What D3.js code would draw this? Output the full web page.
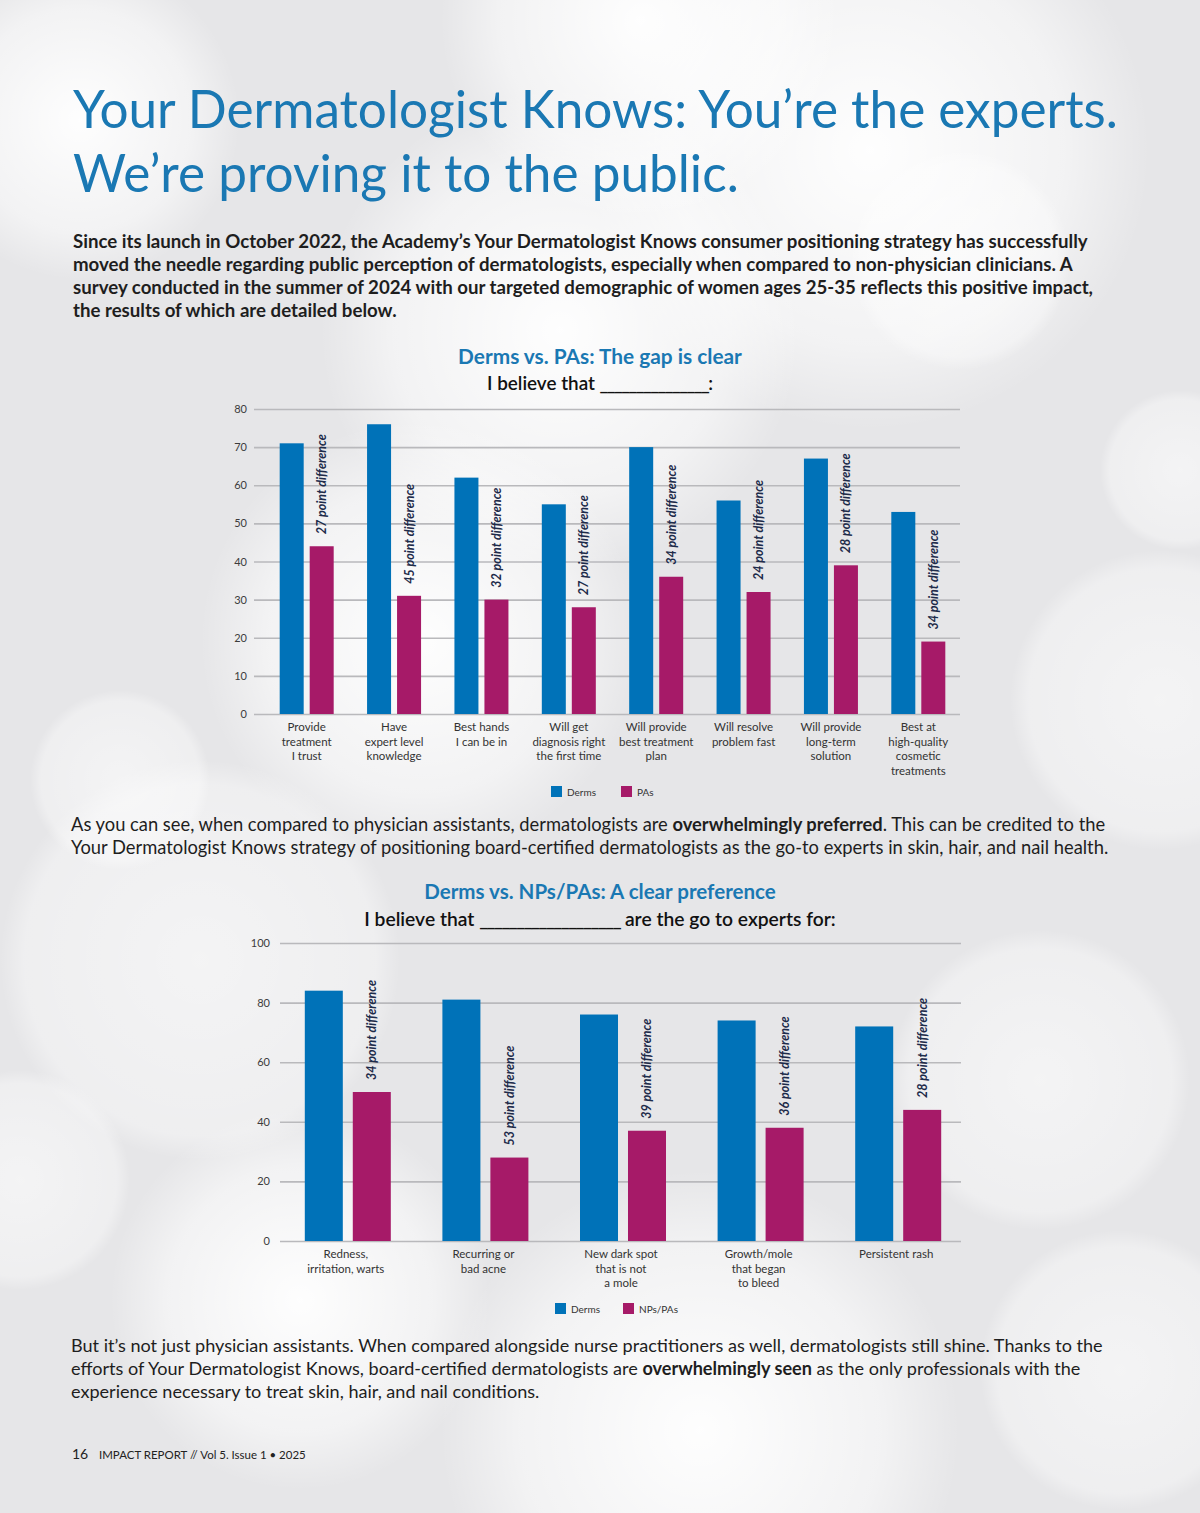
<!DOCTYPE html>
<html>
<head>
<meta charset="utf-8">
<script src="https://cdn.jsdelivr.net/npm/d3@7"></script>
<style>
  html, body { margin: 0; padding: 0; background: #ebebed; }
  svg { display: block; }
</style>
</head>
<body>
<div id="page"></div>
<script>
// ---- data ----
const pasCategories = [
  ["Provide", "treatment", "I trust"],
  ["Have", "expert level", "knowledge"],
  ["Best hands", "I can be in"],
  ["Will get", "diagnosis right", "the first time"],
  ["Will provide", "best treatment", "plan"],
  ["Will resolve", "problem fast"],
  ["Will provide", "long-term", "solution"],
  ["Best at", "high-quality", "cosmetic", "treatments"]
];
const pasDerms = [71, 76, 62, 55, 70, 56, 67, 53];
const pasPAs = [44, 31, 30, 28, 36, 32, 39, 19];
const pasTicks = [0, 10, 20, 30, 40, 50, 60, 70, 80];
const pasSeries = ["Derms", "PAs"];

const npCategories = [
  ["Redness,", "irritation, warts"],
  ["Recurring or", "bad acne"],
  ["New dark spot", "that is not", "a mole"],
  ["Growth/mole", "that began", "to bleed"],
  ["Persistent rash"]
];
const npDerms = [84, 81, 76, 74, 72];
const npNPs = [50, 28, 37, 38, 44];
const npTicks = [0, 20, 40, 60, 80, 100];
const npSeries = ["Derms", "NPs/PAs"];

const headingLines = [
  "Your Dermatologist Knows: You\u2019re the experts.",
  "We\u2019re proving it to the public."
];
const introLines = [
  "Since its launch in October 2022, the Academy\u2019s Your Dermatologist Knows consumer positioning strategy has successfully",
  "moved the needle regarding public perception of dermatologists, especially when compared to non-physician clinicians. A",
  "survey conducted in the summer of 2024 with our targeted demographic of women ages 25-35 reflects this positive impact,",
  "the results of which are detailed below."
];
const middleLines = [
  [["As you can see, when compared to physician assistants, dermatologists are ", 0], ["overwhelmingly preferred", 1], [". This can be credited to the", 0]],
  [["Your Dermatologist Knows strategy of positioning board-certified dermatologists as the go-to experts in skin, hair, and nail health.", 0]]
];
const closingLines = [
  [["But it\u2019s not just physician assistants. When compared alongside nurse practitioners as well, dermatologists still shine. Thanks to the", 0]],
  [["efforts of Your Dermatologist Knows, board-certified dermatologists are ", 0], ["overwhelmingly seen", 1], [" as the only professionals with the", 0]],
  [["experience necessary to treat skin, hair, and nail conditions.", 0]]
];

// ---- drawing ----
const W = 1200, H = 1513;
const FONT = "Lato, 'Open Sans', sans-serif";
const BLUE = "#0072b8", MAGENTA = "#a61a68", TITLE = "#1a78b3", NAVY = "#1d2b4a";

const svg = d3.select("#page").append("svg")
  .attr("width", W).attr("height", H)
  .attr("viewBox", [0, 0, W, H])
  .style("font-family", FONT);

// soft bokeh background
const defs = svg.append("defs");
const glow = defs.append("radialGradient").attr("id", "glow");
glow.append("stop").attr("offset", "0%").attr("stop-color", "#fff").attr("stop-opacity", 0.95);
glow.append("stop").attr("offset", "70%").attr("stop-color", "#fff").attr("stop-opacity", 0.5);
glow.append("stop").attr("offset", "100%").attr("stop-color", "#fff").attr("stop-opacity", 0);
const disc = defs.append("radialGradient").attr("id", "disc");
disc.append("stop").attr("offset", "0%").attr("stop-color", "#fff").attr("stop-opacity", 0.55);
disc.append("stop").attr("offset", "88%").attr("stop-color", "#fff").attr("stop-opacity", 0.35);
disc.append("stop").attr("offset", "100%").attr("stop-color", "#fff").attr("stop-opacity", 0);

svg.append("rect").attr("width", W).attr("height", H).attr("fill", "#e6e6e8");
const blobs = [
  [870, 150, 280], [560, 330, 240], [420, 640, 220], [700, 1430, 260],
  [300, 1300, 190], [80, 120, 160], [640, 20, 200]
];
svg.append("g").selectAll("circle").data(blobs).join("circle")
  .attr("cx", d => d[0]).attr("cy", d => d[1]).attr("r", d => d[2])
  .attr("fill", "url(#glow)");
const discs = [
  [1160, 700, 150], [1040, 1080, 150], [200, 960, 200], [120, 780, 90],
  [960, 260, 110], [1120, 1370, 140], [20, 1180, 110], [1180, 470, 80]
];
svg.append("g").selectAll("circle").data(discs).join("circle")
  .attr("cx", d => d[0]).attr("cy", d => d[1]).attr("r", d => d[2])
  .attr("fill", "url(#disc)");

function fit(sel, target) {
  const fs = parseFloat(sel.attr("font-size"));
  const w = sel.node().getComputedTextLength();
  const size = fs * target / w;
  sel.attr("font-size", size);
  return size;
}

// heading
const h1 = svg.append("text").attr("x", 73).attr("y", 128)
  .attr("font-size", 50).attr("fill", TITLE).attr("font-weight", 400)
  .text(headingLines[0]);
const hSize = fit(h1, 1045);
svg.append("text").attr("x", 73).attr("y", 192)
  .attr("font-size", hSize).attr("fill", TITLE).attr("font-weight", 400)
  .text(headingLines[1]);

// intro paragraph (bold)
const introG = svg.append("g").attr("fill", "#1e1e1e").attr("font-weight", 700);
const introTexts = introG.selectAll("text").data(introLines).join("text")
  .attr("x", 73).attr("y", (d, i) => 248 + i * 23)
  .attr("font-size", 17).text(d => d);
const introSize = fit(d3.select(introTexts.nodes()[0]), 1015);
introTexts.attr("font-size", introSize);

function paragraph(lines, x, y0, target) {
  const g = svg.append("g").attr("fill", "#1e1e1e");
  const texts = g.selectAll("text").data(lines).join("text")
    .attr("x", x).attr("y", (d, i) => y0 + i * 23).attr("font-size", 17);
  texts.selectAll("tspan").data(d => d).join("tspan")
    .attr("font-weight", d => d[1] ? 700 : 400)
    .text(d => d[0]);
  const size = fit(d3.select(texts.nodes()[0]), target);
  texts.attr("font-size", size);
}
paragraph(middleLines, 71, 831, 1035);
paragraph(closingLines, 71, 1352, 1032);

// footer
svg.append("text").attr("x", 72).attr("y", 1459).attr("font-size", 14)
  .attr("fill", "#222").text("16");
const foot = svg.append("text").attr("x", 99).attr("y", 1459).attr("font-size", 12)
  .attr("fill", "#222").text("IMPACT REPORT // Vol 5. Issue 1 \u2022 2025");
fit(foot, 207);

function drawChart(cfg) {
  const g = svg.append("g");

  // titles
  const t = g.append("text").attr("x", 600).attr("y", cfg.titleY)
    .attr("text-anchor", "middle").attr("font-size", 19).attr("font-weight", 700)
    .attr("fill", TITLE).text(cfg.title);
  fit(t, cfg.titleW);
  const st = g.append("text").attr("x", 600).attr("y", cfg.subY)
    .attr("text-anchor", "middle").attr("font-size", 18).attr("font-weight", 600)
    .attr("fill", "#111");
  st.selectAll("tspan").data(cfg.subtitle).join("tspan")
    .attr("letter-spacing", d => d.startsWith("_") ? -1.5 : 0)
    .text(d => d);
  fit(st, cfg.subW);

  const y = d3.scaleLinear().domain(cfg.yDomain).range(cfg.yRange);
  const x0 = d3.scaleBand().domain(d3.range(cfg.categories.length)).range(cfg.xRange);
  const bw = x0.bandwidth();
  const x1 = d3.scaleBand().domain(cfg.series)
    .range([(bw - cfg.groupW) / 2, (bw + cfg.groupW) / 2])
    .paddingInner(cfg.innerPad);

  // grid + y labels
  const yAxis = d3.axisLeft(y).tickValues(cfg.ticks)
    .tickSize(-(cfg.gridX[1] - cfg.gridX[0])).tickPadding(cfg.tickPad);
  const gy = g.append("g").attr("transform", `translate(${cfg.gridX[0]},0)`).call(yAxis);
  gy.select(".domain").remove();
  gy.selectAll(".tick line").attr("stroke", "#b9b9bc").attr("stroke-width", 1.6);
  gy.selectAll(".tick text").attr("fill", "#3c3c3c").attr("font-size", 11)
    .attr("font-family", FONT);

  // bars
  const rows = cfg.categories.map((c, i) => ({ i, vals: [cfg.a[i], cfg.b[i]] }));
  const grp = g.append("g").selectAll("g").data(rows).join("g")
    .attr("transform", d => `translate(${x0(d.i)},0)`);
  grp.selectAll("rect").data(d => d.vals.map((v, k) => ({ k, v }))).join("rect")
    .attr("x", d => x1(cfg.series[d.k]))
    .attr("width", x1.bandwidth())
    .attr("y", d => y(d.v))
    .attr("height", d => y(0) - y(d.v))
    .attr("fill", d => d.k ? MAGENTA : BLUE);

  // difference labels
  grp.append("text")
    .attr("transform", d => `translate(${x1(cfg.series[1]) + x1.bandwidth() / 2},${y(d.vals[1]) - 12}) rotate(-90)`)
    .attr("dy", "0.36em")
    .attr("font-size", cfg.diffSize).attr("font-style", "italic").attr("font-weight", 700)
    .attr("fill", NAVY)
    .text(d => `${d.vals[0] - d.vals[1]} point difference`);

  // category labels
  const lab = g.append("g").selectAll("text").data(cfg.categories).join("text")
    .attr("text-anchor", "middle").attr("font-size", 11.5).attr("fill", "#333")
    .attr("transform", (d, i) => `translate(${x0(i) + bw / 2 + cfg.labelShift},${cfg.labelY})`);
  lab.selectAll("tspan").data(d => d).join("tspan")
    .attr("x", 0).attr("y", (d, i) => i * 14.5).text(d => d);

  // legend
  const leg = g.append("g").selectAll("g").data(cfg.series).join("g")
    .attr("transform", (d, i) => `translate(${cfg.legendX[i]},${cfg.legendY})`);
  leg.append("rect").attr("width", 11).attr("height", 11)
    .attr("fill", (d, i) => i ? MAGENTA : BLUE);
  leg.append("text").attr("x", 16).attr("y", 9.5).attr("font-size", 10)
    .attr("fill", "#333").text(d => d);
}

drawChart({
  title: "Derms vs. PAs: The gap is clear",
  subtitle: ["I believe that ", "_______________", ":"],
  titleY: 364, titleW: 284, subY: 390, subW: 225,
  categories: pasCategories, series: pasSeries, a: pasDerms, b: pasPAs, ticks: pasTicks,
  yDomain: [0, 80], yRange: [714, 409],
  xRange: [263, 962], gridX: [254, 960], tickPad: 7,
  groupW: 54, innerPad: 0.2, diffSize: 12.5,
  labelY: 731, labelShift: 0,
  legendX: [551, 621], legendY: 786
});

drawChart({
  title: "Derms vs. NPs/PAs: A clear preference",
  subtitle: ["I believe that ", "___________________", " are the go to experts for:"],
  titleY: 899, titleW: 352, subY: 926, subW: 470,
  categories: npCategories, series: npSeries, a: npDerms, b: npNPs, ticks: npTicks,
  yDomain: [0, 100], yRange: [1241, 943],
  xRange: [279, 967], gridX: [280, 961], tickPad: 10,
  groupW: 86, innerPad: 0.208, diffSize: 12.5,
  labelY: 1258, labelShift: -2,
  legendX: [555, 623], legendY: 1303
});
</script>
</body>
</html>
